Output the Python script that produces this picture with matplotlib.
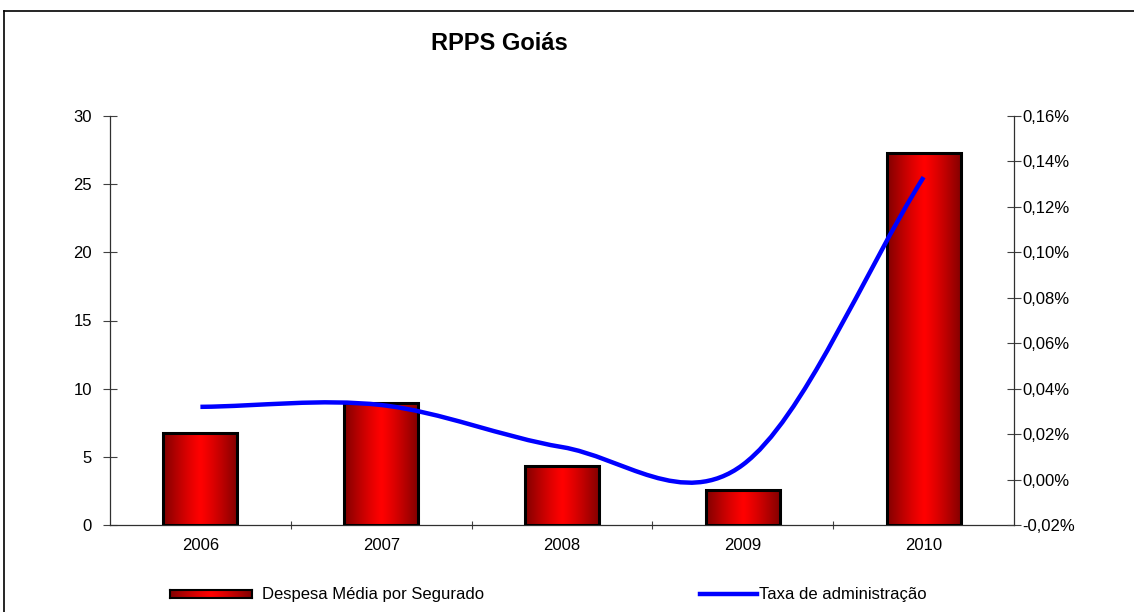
import numpy as np
import matplotlib
matplotlib.use("Agg")
import matplotlib.pyplot as plt
from matplotlib.path import Path
from matplotlib.patches import PathPatch
from matplotlib.lines import Line2D
from matplotlib.ticker import FuncFormatter, FixedLocator

plt.rcParams['font.family'] = ['Liberation Sans', 'DejaVu Sans']

# ---- data ----
years = ["2006", "2007", "2008", "2009", "2010"]
despesa = [6.75, 8.95, 4.33, 2.57, 27.3]           # left axis
taxa = [0.0320, 0.0328, 0.0143, 0.0065, 0.1331]    # right axis, in %
left_ticks = [0, 5, 10, 15, 20, 25, 30]
right_ticks = [-0.02, 0.00, 0.02, 0.04, 0.06, 0.08, 0.10, 0.12, 0.14, 0.16]
title = "RPPS Goiás"
legend_bar = "Despesa Média por Segurado"
legend_line = "Taxa de administração"

W, H = 1134, 612
fig = plt.figure(figsize=(W / 100, H / 100), dpi=100)

def fx(px):
    return px / W

def fy(py):
    return 1 - py / H

ax = fig.add_axes([fx(110), fy(525), fx(1014) - fx(110), fy(116) - fy(525)])
ax2 = ax.twinx()

x = np.arange(len(years))
bw = 0.41

# gradient (dark edges, bright centre)
g = np.linspace(-1, 1, 256)
t = 1 - np.abs(g) ** 1.2
grad = np.zeros((1, 256, 3))
grad[0, :, 0] = 0.50 + 0.50 * t
grad = np.clip(grad, 0, 1)

bars = ax.bar(x, despesa, width=bw, facecolor='none', edgecolor='black',
              linewidth=2.2, zorder=3)
for b in bars:
    x0, y0 = b.get_x(), b.get_y()
    w, h = b.get_width(), b.get_height()
    im = ax.imshow(grad, extent=[x0, x0 + w, y0, y0 + h], aspect='auto',
                   zorder=2, interpolation='bilinear')
    im.set_clip_path(b)

ax.set_xlim(-0.5, len(years) - 0.5)
ax.set_ylim(0, 30)
ax.set_yticks(left_ticks)
ax.set_xticks(x)
ax.set_xticklabels(years, fontsize=12)
ax.xaxis.set_minor_locator(FixedLocator(np.arange(0.5, len(years) - 0.5, 1.0)))
ax.tick_params(axis='x', which='major', length=0, pad=9)
ax.tick_params(axis='x', which='minor', direction='inout', length=6, width=0.8, color='#404040')
ax.tick_params(axis='y', direction='inout', length=10, width=0.8, labelsize=12, pad=8, color='#404040')

# right axis
ax2.set_ylim(-0.02, 0.16)
ax2.set_yticks(right_ticks)
ax2.yaxis.set_major_formatter(FuncFormatter(lambda v, p: f"{v:.2f}%".replace('.', ',')))
ax2.tick_params(axis='y', direction='inout', length=10, width=0.8, labelsize=12, pad=1, color='#404040')

for a in (ax, ax2):
    a.spines['top'].set_visible(False)
    for s in ('left', 'right', 'bottom'):
        a.spines[s].set_color('#303030')
        a.spines[s].set_linewidth(0.9)
ax.spines['right'].set_visible(False)
ax2.spines['left'].set_visible(False)
ax2.spines['bottom'].set_visible(False)

# smoothed line (Bezier through the data points)
xs = list(x.astype(float))
ys = list(taxa)
px = [2 * xs[0] - xs[1]] + xs + [2 * xs[-1] - xs[-2]]
py = [2 * ys[0] - ys[1]] + ys + [2 * ys[-1] - ys[-2]]
verts = [(xs[0], ys[0])]
codes = [Path.MOVETO]
for i in range(1, len(xs)):
    p0 = (px[i], py[i])
    p1 = (px[i + 1], py[i + 1])
    pm = (px[i - 1], py[i - 1])
    pn = (px[i + 2], py[i + 2])
    c1 = (p0[0] + (p1[0] - pm[0]) / 6, p0[1] + (p1[1] - pm[1]) / 6)
    c2 = (p1[0] - (pn[0] - p0[0]) / 6, p1[1] - (pn[1] - p0[1]) / 6)
    verts += [c1, c2, p1]
    codes += [Path.CURVE4] * 3
path = Path(verts, codes)
ax2.add_patch(PathPatch(path, facecolor='none', edgecolor='#0000ff', lw=3.2,
                        capstyle='butt', zorder=5))

# title
fig.text(fx(499), fy(44), title, ha='center', va='center', fontsize=17, fontweight='bold')

# frame
fig.add_artist(Line2D([fx(4), fx(4)], [fy(11), -0.05], color='black', lw=1.2))
fig.add_artist(Line2D([fx(4), 1.05], [fy(11), fy(11)], color='black', lw=1.2))

# legend
lax = fig.add_axes([fx(170), fy(598), fx(252) - fx(170), fy(590) - fy(598)])
lax.imshow(grad, aspect='auto', extent=[0, 1, 0, 1], interpolation='bilinear')
lax.set_xticks([]); lax.set_yticks([])
for s in lax.spines.values():
    s.set_linewidth(1.5)
fig.text(fx(262), fy(594), legend_bar, ha='left', va='center', fontsize=12)
fig.add_artist(Line2D([fx(700), fx(757)], [fy(594), fy(594)], color='#0000ff', lw=3.2))
fig.text(fx(759), fy(594), legend_line, ha='left', va='center', fontsize=12)

fig.savefig("out.png", dpi=100)
